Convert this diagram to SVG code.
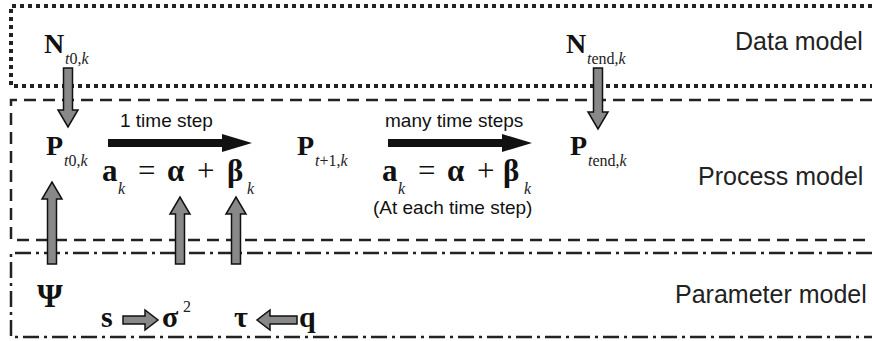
<svg xmlns="http://www.w3.org/2000/svg" width="872" height="341" viewBox="0 0 872 341">
<style>
.frame{fill:none;stroke:#222}
.lbl{font-family:"Liberation Sans",Arial,sans-serif;font-size:25px;fill:#222}
.small{font-family:"Liberation Sans",Arial,sans-serif;font-size:19px;fill:#111}
.m{font-family:"Liberation Serif","Times New Roman",serif;font-weight:bold;fill:#111}
.r{font-family:"Liberation Serif","Times New Roman",serif;fill:#111}
.sub{font-family:"Liberation Serif","Times New Roman",serif;font-size:16px;fill:#222}
.it{font-style:italic}
.blk{fill:#888;stroke:#111;stroke-width:1.5;stroke-linejoin:miter}
.bar{fill:#111}
</style>
<rect width="872" height="341" fill="#fff"/>
<g id="regions">
<path id="data-region" class="frame" d="M872 6 H11 V86 H872" stroke-width="4" stroke-dasharray="4 4"/>
<path id="process-region" class="frame" d="M872 100 H11 V240 H872" stroke-width="2.5" stroke-dasharray="12 7"/>
<path id="parameter-region" class="frame" d="M872 253 H11 V337 H872" stroke-width="2.5" stroke-dasharray="16 5 3 5"/>
</g>
<g id="region-labels">
<text class="lbl" x="735" y="50">Data model</text>
<text class="lbl" x="698" y="185">Process model</text>
<text class="lbl" x="675" y="303">Parameter model</text>
</g>
<g id="node-N0"><text class="m" font-size="28" x="44" y="53">N</text><text class="sub" x="65" y="64"><tspan class="it">t</tspan>0,<tspan class="it">k</tspan></text></g>
<g id="node-Nend"><text class="m" font-size="28" x="566" y="53">N</text><text class="sub" x="587" y="64"><tspan class="it">t</tspan>end,<tspan class="it">k</tspan></text></g>
<g id="node-P0"><text class="m" font-size="28" x="46" y="155">P</text><text class="sub" x="64" y="166"><tspan class="it">t</tspan>0,<tspan class="it">k</tspan></text></g>
<g id="node-P1"><text class="m" font-size="28" x="297" y="155">P</text><text class="sub" x="315" y="166"><tspan class="it">t</tspan>+1,<tspan class="it">k</tspan></text></g>
<g id="node-Pend"><text class="m" font-size="28" x="570" y="155">P</text><text class="sub" x="588" y="166"><tspan class="it">t</tspan>end,<tspan class="it">k</tspan></text></g>
<g id="eq1">
<text class="m" font-size="31" x="102" y="181">a</text><text class="sub it" x="118" y="194">k</text>
<text class="r" font-size="31" x="138" y="181">=</text>
<text class="m" font-size="31" x="167" y="181">α</text>
<text class="r" font-size="31" x="197" y="181">+</text>
<text class="m" font-size="31" x="227" y="181">β</text><text class="sub it" x="247" y="194">k</text>
</g>
<g id="eq2">
<text class="m" font-size="31" x="382" y="181">a</text><text class="sub it" x="398" y="194">k</text>
<text class="r" font-size="31" x="418" y="181">=</text>
<text class="m" font-size="31" x="447" y="181">α</text>
<text class="r" font-size="31" x="477" y="181">+</text>
<text class="m" font-size="31" x="503" y="181">β</text><text class="sub it" x="524" y="194">k</text>
<text class="small" x="373" y="214">(At each time step)</text>
</g>
<g id="node-Psi"><text class="m" font-size="33" x="37" y="307">Ψ</text></g>
<g id="node-s"><text class="m" font-size="30" x="101" y="327">s</text></g>
<g id="node-sigma"><text class="m" font-size="30" x="162" y="327">σ</text><text class="sub" font-size="14" x="183" y="312">2</text></g>
<g id="node-tau"><text class="m" font-size="30" x="234" y="327">τ</text></g>
<g id="node-q"><text class="m" font-size="30" x="299" y="327">q</text></g>
<g id="connectors">
<text class="small" x="120" y="127">1 time step</text>
<path class="bar" d="M108 139 H222 V134 L252 143 L222 152 V147 H108 Z"/>
<text class="small" x="385" y="127">many time steps</text>
<path class="bar" d="M388 139 H502 V134 L532 143 L502 152 V147 H388 Z"/>
<path class="blk" d="M63.5 68 H72.5 V110 H78 L68 127 L58 110 H63.5 Z"/>
<path class="blk" d="M593.5 68 H602.5 V112 H608 L598 129 L588 112 H593.5 Z"/>
<path class="blk" d="M47.5 264 H56.5 V199 H62 L52 182 L42 199 H47.5 Z"/>
<path class="blk" d="M175.5 264 H184.5 V214 H190 L180 197 L170 214 H175.5 Z"/>
<path class="blk" d="M231.5 264 H240.5 V214 H246 L236 197 L226 214 H231.5 Z"/>
<path class="blk" d="M123 316 H145 V310 L158 320 L145 330 V324 H123 Z"/>
<path class="blk" d="M297 316 H270 V310 L257 320 L270 330 V324 H297 Z"/>
</g>
</svg>
